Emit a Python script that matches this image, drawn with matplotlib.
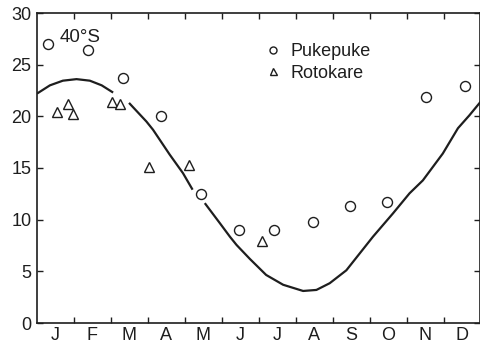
import numpy as np
import matplotlib
matplotlib.use("Agg")
import matplotlib.pyplot as plt

plt.rcParams['font.family'] = ['Liberation Sans', 'DejaVu Sans']

# months: 0 = start of January, 12 = end of December
month_labels = ['J', 'F', 'M', 'A', 'M', 'J', 'J', 'A', 'S', 'O', 'N', 'D']

# Pukepuke (circles)
puke_x = [0.30, 1.38, 2.33, 3.35, 4.43, 5.46, 6.41, 7.46, 8.46, 9.48, 10.53, 11.59]
puke_y = [27.0, 26.4, 23.7, 20.0, 12.45, 9.0, 9.0, 9.8, 11.3, 11.75, 21.9, 22.9]

# Rotokare (triangles)
roto_x = [0.54, 0.84, 0.98, 2.03, 2.24, 3.03, 4.11, 6.08]
roto_y = [20.4, 21.2, 20.2, 21.4, 21.2, 15.1, 15.3, 7.9]

# fitted curve (nan = gap around symbols)
curve_x = [0.0, 0.35, 0.70, 1.07, 1.43, 1.75, 2.06, np.nan,
           2.49, 2.96, 3.14, 3.59, 3.95, 4.21, np.nan,
           4.54, 4.95, 5.22, 5.40, 5.76, 6.20, 6.66, 7.20, 7.56, 7.92,
           8.37, 9.09, 9.63, 10.08, 10.44, 10.98, 11.39, 11.70, 12.0]
curve_y = [22.2, 23.0, 23.45, 23.6, 23.45, 23.0, 22.3, np.nan,
           21.3, 19.5, 18.7, 16.3, 14.5, 12.9, np.nan,
           11.6, 9.65, 8.35, 7.55, 6.2, 4.65, 3.7, 3.1, 3.2, 3.85,
           5.1, 8.35, 10.6, 12.55, 13.8, 16.4, 18.85, 20.1, 21.4]

ink = '#1e1e1e'

fig = plt.figure(figsize=(4.81, 3.50), dpi=100)
ax = fig.add_axes([37/481, 27/350, 443.5/481, 310/350])

ax.plot(curve_x, curve_y, color=ink, lw=1.6, solid_capstyle='butt')
ax.plot(puke_x, puke_y, 'o', ms=7.2, mfc='white', mec=ink, mew=1.0, label='Pukepuke')
ax.plot(roto_x, roto_y, '^', ms=7.2, mfc='white', mec=ink, mew=1.0, label='Rotokare')

ax.set_xlim(0, 12)
ax.set_ylim(0, 30)

ax.set_xticks(np.arange(1, 12))
ax.set_xticklabels([])
ax.set_xticks(np.arange(0.5, 12), minor=True)
ax.set_xticklabels(month_labels, minor=True)
ax.set_yticks(np.arange(0, 31, 5))

ax.tick_params(axis='both', which='major', direction='in', length=4, width=1,
               top=True, right=True, color=ink, labelcolor=ink, labelsize=13)
ax.tick_params(axis='x', which='minor', length=0, pad=3, labelcolor=ink, labelsize=13)
ax.tick_params(axis='y', which='major', pad=4)

for s in ax.spines.values():
    s.set_color(ink)
    s.set_linewidth(1.2)

ax.text(0.6, 27.6, '40°S', fontsize=13.5, color=ink, va='center', ha='left')

leg = ax.legend(loc='upper left', bbox_to_anchor=(0.475, 0.955), frameon=False,
                handlelength=1.0, handletextpad=0.5, markerscale=0.7,
                labelspacing=0.25, fontsize=13)
for t in leg.get_texts():
    t.set_color(ink)

fig.savefig('out.png', dpi=100)
